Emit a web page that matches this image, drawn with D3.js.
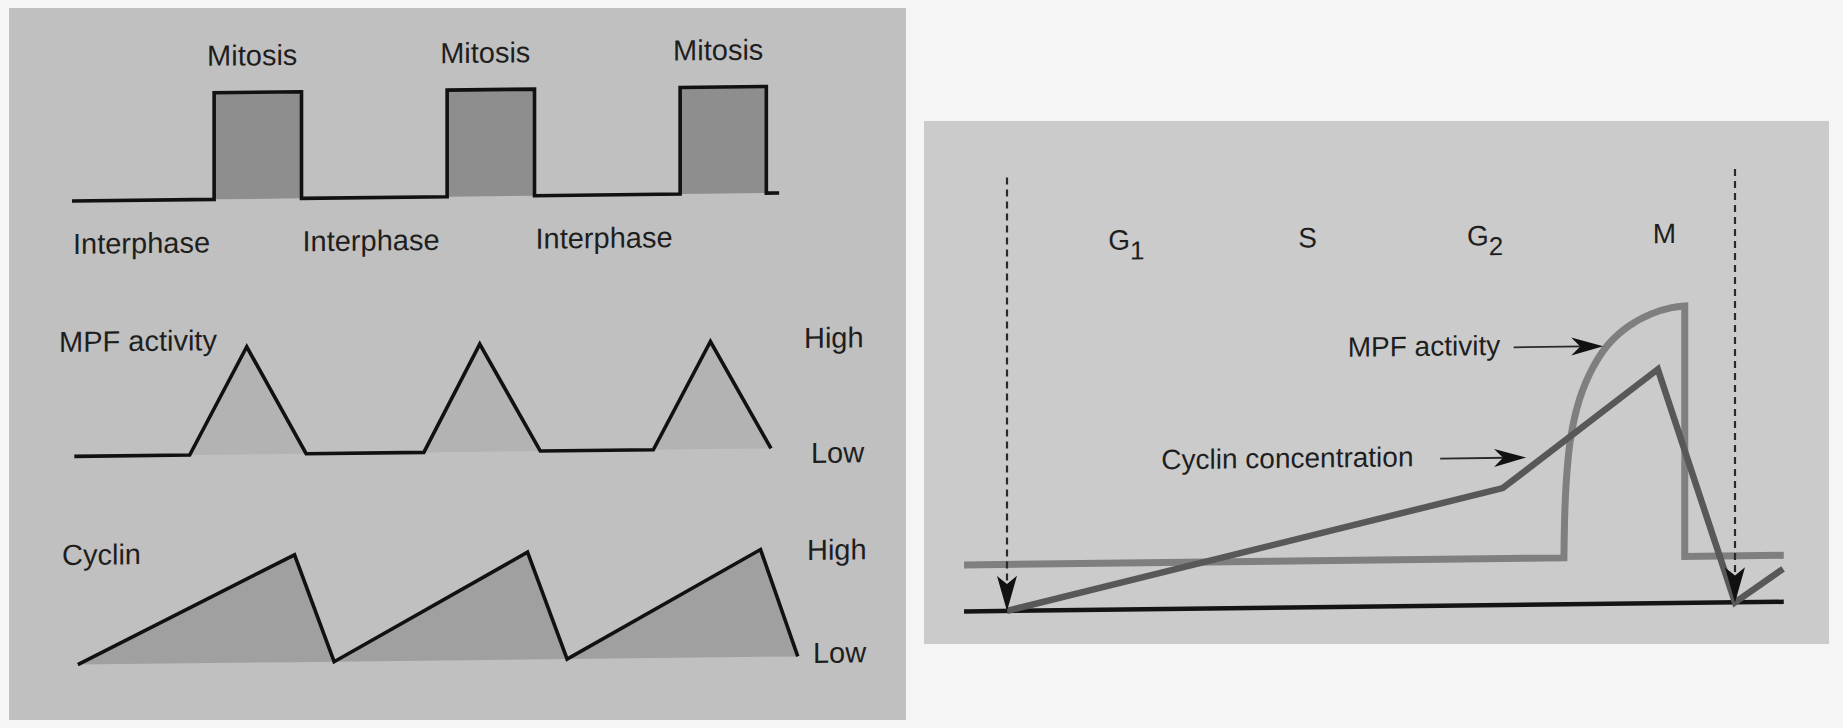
<!DOCTYPE html>
<html>
<head>
<meta charset="utf-8">
<script src="https://cdn.jsdelivr.net/npm/d3@7"></script>
<style>
  html, body { margin: 0; padding: 0; background: #f5f5f5; }
  svg { display: block; }
  text { font-family: "Liberation Sans", Arial, sans-serif; fill: #1e1e1e; }
</style>
</head>
<body>
<svg id="chart" width="1843" height="728"></svg>
<script>
// ---------- Left panel: oscillations over three cycles (time in arbitrary units) ----------
const mitosisStart = [6.1, 16.1, 26.1];
const mitosisEnd = [9.85, 19.85, 29.8];
const mitosisTraceEnd = 30.35;
const mitosisLabels = ["Mitosis", "Mitosis", "Mitosis"];
const interphaseStart = [0, 9.85, 19.85];
const interphaseLabels = ["Interphase", "Interphase", "Interphase"];

const mpfTime = [0.1, 5.05, 7.5, 10.05, 15.1, 17.5, 20.1, 24.95, 27.4, 30.0];
const mpfLevel = [0, 0, 1, 0, 0, 1, 0, 0, 1, 0];

const cyclinTime = [0.25, 9.55, 11.25, 19.55, 21.25, 29.55, 31.15];
const cyclinLevel = [0, 1, 0, 1, 0, 1, 0];

const levelLabels = ["High", "Low"];

// ---------- Right panel: one cycle (percent of cycle) ----------
const phaseNames = ["G", "S", "G", "M"];
const phaseSubs = ["1", "", "2", ""];
const phaseStart = [13.9, 40.0, 63.2, 88.7];

const mpfFlatPct = [-5.9, 76.5];
const mpfFlatVal = [0.155, 0.155];
const mpfRisePct = [76.5, 76.75, 77.4, 78.6, 80.4, 82.6, 85.4, 88.5, 91.3, 93.1];
const mpfRiseVal = [0.155, 0.38, 0.55, 0.68, 0.785, 0.865, 0.925, 0.965, 0.985, 0.99];
const mpfFallPct = [93.1, 93.1, 106.7];
const mpfFallVal = [0.99, 0.155, 0.155];

const cyclinPct = [0, 68.1, 89.4, 100, 106.6];
const cyclinVal = [0, 0.39, 0.78, 0, 0.11];

const baselinePct = [-5.9, 106.7];
const cycleBounds = [0, 100];
const dashTop = 1.445;

const annotations = [
  { text: "MPF activity", labelPct: 46.8, labelVal: 0.834, fromPct: 69.6, toPct: 81.9, arrowVal: 0.859 },
  { text: "Cyclin concentration", labelPct: 21.2, labelVal: 0.466, fromPct: 59.5, toPct: 71.3, arrowVal: 0.491 }
];

const svg = d3.select("#chart");
const zip = (xs, ys) => xs.map((x, i) => [x, ys[i]]);
// slight tilt of each printed panel
const tilt = (cx, cy, a) => `translate(${cx},${cy}) skewY(${a}) translate(${-cx},${-cy})`;

// panel backgrounds
svg.append("rect").attr("x", 0).attr("y", 0).attr("width", 1843).attr("height", 728).attr("fill", "#f5f5f5");
svg.append("rect").attr("x", 9).attr("y", 8).attr("width", 897).attr("height", 712).attr("fill", "#c0c0c0");
svg.append("rect").attr("x", 924).attr("y", 121).attr("width", 905).attr("height", 523).attr("fill", "#cbcbcb");

// ================= Left panel =================
const left = svg.append("g").attr("transform", tilt(457, 364, -0.65));
const xL = d3.scaleLinear().domain([0, 30]).range([72, 771]);
const yMit = d3.scaleLinear().domain([0, 1]).range([196.6, 90]);
const yMpf = d3.scaleLinear().domain([0, 1]).range([452, 344.4]);
const yCyc = d3.scaleLinear().domain([0, 1]).range([660.3, 553]);

// mitosis blocks
left.selectAll("rect.mitosis")
  .data(mitosisStart.map((s, i) => ({ s, e: mitosisEnd[i] })))
  .join("rect")
  .attr("class", "mitosis")
  .attr("x", d => xL(d.s))
  .attr("y", yMit(1))
  .attr("width", d => xL(d.e) - xL(d.s))
  .attr("height", yMit(0) - yMit(1))
  .attr("fill", "#8e8e8e");

const squareWave = [[0, 0]];
mitosisStart.forEach((s, i) => {
  squareWave.push([s, 0], [s, 1], [mitosisEnd[i], 1], [mitosisEnd[i], 0]);
});
squareWave.push([mitosisTraceEnd, 0]);

left.append("path")
  .attr("d", d3.line().x(d => xL(d[0])).y(d => yMit(d[1]))(squareWave))
  .attr("fill", "none").attr("stroke", "#111").attr("stroke-width", 3.6)
  .attr("stroke-linejoin", "miter");

left.selectAll("text.mit")
  .data(mitosisLabels)
  .join("text")
  .attr("class", "mit")
  .attr("x", (d, i) => xL(mitosisStart[i]) - 7)
  .attr("y", yMit(1) - 27)
  .attr("font-size", 29)
  .text(d => d);

left.selectAll("text.inter")
  .data(interphaseLabels)
  .join("text")
  .attr("class", "inter")
  .attr("x", (d, i) => xL(interphaseStart[i]) + 1)
  .attr("y", yMit(0) + 53)
  .attr("font-size", 29)
  .text(d => d);

// MPF activity
const mpfData = zip(mpfTime, mpfLevel);
left.append("path")
  .attr("d", d3.area().x(d => xL(d[0])).y0(yMpf(0)).y1(d => yMpf(d[1]))(mpfData))
  .attr("fill", "#b3b3b3");
left.append("path")
  .attr("d", d3.line().x(d => xL(d[0])).y(d => yMpf(d[1]))(mpfData))
  .attr("fill", "none").attr("stroke", "#111").attr("stroke-width", 3.6);

// Cyclin
const cycData = zip(cyclinTime, cyclinLevel);
left.append("path")
  .attr("d", d3.area().x(d => xL(d[0])).y0(yCyc(0)).y1(d => yCyc(d[1]))(cycData))
  .attr("fill", "#a0a0a0");
left.append("path")
  .attr("d", d3.line().x(d => xL(d[0])).y(d => yCyc(d[1]))(cycData))
  .attr("fill", "none").attr("stroke", "#111").attr("stroke-width", 3.6);

// track titles and level labels
left.append("text").attr("x", 59).attr("y", yMpf(1) + 3).attr("font-size", 29).text("MPF activity");
left.append("text").attr("x", 62).attr("y", yCyc(1) + 7.6).attr("font-size", 29).text("Cyclin");

left.append("text").attr("x", 804).attr("y", yMpf(1) + 7.6).attr("font-size", 29).text(levelLabels[0]);
left.append("text").attr("x", 811).attr("y", yMpf(0) + 15).attr("font-size", 29).text(levelLabels[1]);
left.append("text").attr("x", 807).attr("y", yCyc(1) + 11).attr("font-size", 29).text(levelLabels[0]);
left.append("text").attr("x", 813).attr("y", yCyc(0) + 6.7).attr("font-size", 29).text(levelLabels[1]);

// ================= Right panel =================
const right = svg.append("g").attr("transform", tilt(1375, 382, -0.67));
const xR = d3.scaleLinear().domain([0, 100]).range([1007, 1735]);
const yR = d3.scaleLinear().domain([0, 1]).range([606.6, 306.6]);

// phase labels
const phaseText = right.selectAll("text.phase")
  .data(phaseNames)
  .join("text")
  .attr("class", "phase")
  .attr("x", (d, i) => xR(phaseStart[i]))
  .attr("y", yR(1.2))
  .attr("font-size", 28);
phaseText.append("tspan").text(d => d);
phaseText.append("tspan")
  .attr("dy", 10)
  .attr("font-size", 26)
  .text((d, i) => phaseSubs[i]);

// MPF activity trace: flat, smooth rise, sharp drop
const lin = d3.line().x(d => xR(d[0])).y(d => yR(d[1]));
const smooth = d3.line().x(d => xR(d[0])).y(d => yR(d[1])).curve(d3.curveCatmullRom.alpha(0.5));
const strip = s => s.replace(/^M[^LC]*/, "");
const mpfPath = lin(zip(mpfFlatPct, mpfFlatVal))
  + strip(smooth(zip(mpfRisePct, mpfRiseVal)))
  + strip(lin(zip(mpfFallPct, mpfFallVal)));
right.append("path")
  .attr("d", mpfPath)
  .attr("fill", "none").attr("stroke", "#7f7f7f").attr("stroke-width", 7)
  .attr("stroke-linejoin", "miter");

// baseline
right.append("path")
  .attr("d", lin(baselinePct.map(p => [p, 0])))
  .attr("stroke", "#141414").attr("stroke-width", 4.5).attr("fill", "none");

// cyclin concentration
right.append("path")
  .attr("d", lin(zip(cyclinPct, cyclinVal)))
  .attr("fill", "none").attr("stroke", "#585858").attr("stroke-width", 6.5)
  .attr("stroke-linejoin", "miter");

// arrowhead helper: tip at (x, y), pointing along angle
function arrowHead(x, y, ang, len, half, notch) {
  const c = Math.cos(ang), s = Math.sin(ang);
  const bx = x - len * c, by = y - len * s;
  const nx = x - (len - notch) * c, ny = y - (len - notch) * s;
  return `M${x},${y}L${bx - half * s},${by + half * c}L${nx},${ny}L${bx + half * s},${by - half * c}Z`;
}

// cycle boundary markers
cycleBounds.forEach(p => {
  right.append("line")
    .attr("x1", xR(p)).attr("x2", xR(p))
    .attr("y1", yR(dashTop)).attr("y2", yR(0) - 20)
    .attr("stroke", "#2a2a2a").attr("stroke-width", 2.2)
    .attr("stroke-dasharray", "7,5");
  right.append("path")
    .attr("d", arrowHead(xR(p), yR(0), Math.PI / 2, 35, 10, 8))
    .attr("fill", "#111");
});

// annotations with leader arrows
annotations.forEach(a => {
  right.append("text")
    .attr("x", xR(a.labelPct)).attr("y", yR(a.labelVal))
    .attr("font-size", 28).text(a.text);
  right.append("line")
    .attr("x1", xR(a.fromPct)).attr("x2", xR(a.toPct) - 20)
    .attr("y1", yR(a.arrowVal)).attr("y2", yR(a.arrowVal))
    .attr("stroke", "#2a2a2a").attr("stroke-width", 1.8);
  right.append("path")
    .attr("d", arrowHead(xR(a.toPct), yR(a.arrowVal), 0, 32, 9, 9))
    .attr("fill", "#111");
});
</script>
</body>
</html>
